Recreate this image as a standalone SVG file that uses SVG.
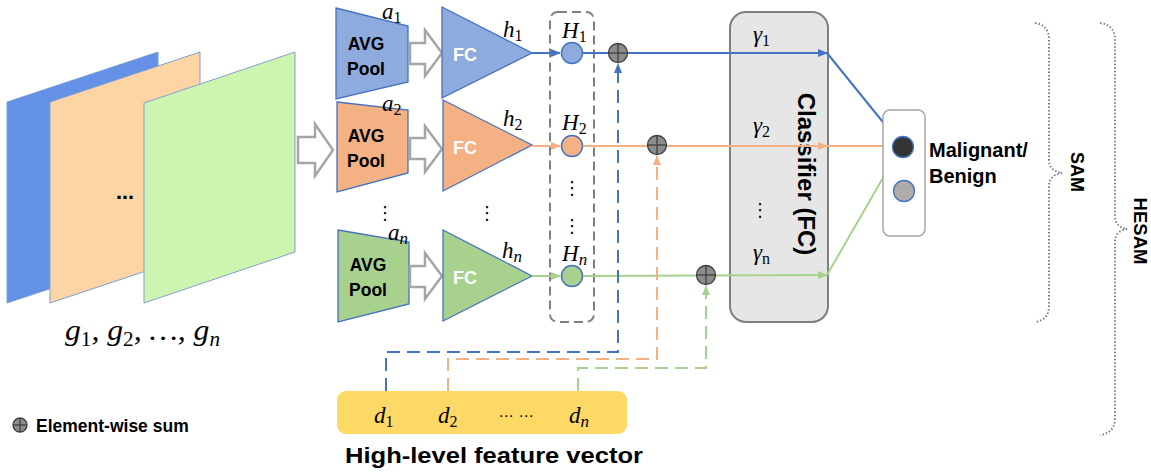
<svg xmlns="http://www.w3.org/2000/svg" width="1151" height="472" viewBox="0 0 1151 472">
<style>
.bold{font-family:"Liberation Sans",Arial,sans-serif;font-weight:bold;fill:#000}
.fc{font-family:"Liberation Sans",Arial,sans-serif;font-weight:bold;fill:#fff;font-size:18px}
.pool{font-family:"Liberation Sans",Arial,sans-serif;font-weight:bold;font-size:17.5px;text-anchor:middle}
.math{font-family:"Liberation Serif","DejaVu Serif",serif;font-style:italic;font-size:23px;fill:#000}
.up{font-style:normal;font-size:16px}
.blk{stroke:#4472C4;stroke-width:1.3}
.barrow{fill:#fff;stroke:#A6A6A6;stroke-width:2.5}
.plus circle{fill:#8C8C8C;stroke:#404040;stroke-width:1.3}
.plus line{stroke:#404040;stroke-width:1.3}
.dots{font-family:"DejaVu Sans",sans-serif;font-size:18px;text-anchor:middle;fill:#000}
.brace{fill:none;stroke:#808080;stroke-width:2;stroke-dasharray:1.5 2}
</style>
<defs>
<marker id="ab" markerUnits="userSpaceOnUse" markerWidth="10" markerHeight="8" refX="9" refY="4" orient="auto"><path d="M0,0 L10,4 L0,8 z" fill="#4472C4"/></marker>
<marker id="ao" markerUnits="userSpaceOnUse" markerWidth="10" markerHeight="8" refX="9" refY="4" orient="auto"><path d="M0,0 L10,4 L0,8 z" fill="#F4B183"/></marker>
<marker id="ag" markerUnits="userSpaceOnUse" markerWidth="10" markerHeight="8" refX="9" refY="4" orient="auto"><path d="M0,0 L10,4 L0,8 z" fill="#A9D18E"/></marker>
</defs>

<g id="input-planes">
<polygon points="7,102 158,52 158,253 7,303" fill="#6291E5" stroke="#7F9FD3" stroke-width="1"/>
<polygon points="50,102 200,52 200,253 50,303" fill="#FDD5A5" stroke="#7F9FD3" stroke-width="1"/>
<polygon points="144,103 295,52 295,252 144,303" fill="#CDF5B0" stroke="#7F9FD3" stroke-width="1"/>
<text class="dots" x="125" y="199" font-weight="bold">…</text>
<text class="math" x="65" y="340" style="font-size:30px" textLength="155" lengthAdjust="spacingAndGlyphs">g<tspan class="up" style="font-size:20px" dy="6">1</tspan><tspan dy="-6">, g</tspan><tspan class="up" style="font-size:20px" dy="6">2</tspan><tspan dy="-6">, …, g</tspan><tspan style="font-size:20px" dy="6">n</tspan></text>
</g>

<g id="arrow-in">
<polygon class="barrow" points="298,137 315,137 315,124 333,150 315,176 315,163 298,163"/>
</g>

<g id="pool-1">
<polygon class="blk" points="336,8 408,26 408,82 336,99" fill="#8FAADC"/>
<text class="pool" x="366" y="50">AVG</text><text class="pool" x="366" y="75">Pool</text>
<text class="math" x="382" y="19">a<tspan class="up" dy="4">1</tspan></text>
</g>
<g id="pool-2">
<polygon class="blk" points="337,102 408,110 408,173 337,192" fill="#F4B183"/>
<text class="pool" x="366" y="142">AVG</text><text class="pool" x="366" y="167">Pool</text>
<text class="math" x="382" y="111">a<tspan class="up" dy="4">2</tspan></text>
</g>
<g id="pool-n">
<polygon class="blk" points="338,230 409,242 409,304 338,322" fill="#A9D18E"/>
<text class="pool" x="368" y="271">AVG</text><text class="pool" x="368" y="296">Pool</text>
<text class="math" x="388" y="240">a<tspan dy="4" font-size="17">n</tspan></text>
</g>
<text class="dots" x="385" y="219">⋮</text>
<text class="dots" x="487" y="219">⋮</text>

<g id="block-arrows">
<polygon class="barrow" points="410,43 425,43 425,30 442,53 425,76 425,64 410,64"/>
<polygon class="barrow" points="410,138 425,138 425,126 442,149 425,172 425,159 410,159"/>
<polygon class="barrow" points="410,266 425,266 425,253 442,276 425,299 425,287 410,287"/>
</g>

<g id="fc-1">
<polygon class="blk" points="442,7 442,98 532,53" fill="#8FAADC"/>
<text class="fc" x="453" y="61">FC</text>
<text class="math" x="503" y="37">h<tspan class="up" dy="4">1</tspan></text>
</g>
<g id="fc-2">
<polygon class="blk" points="443,100 443,191 532,145" fill="#F4B183"/>
<text class="fc" x="453" y="154">FC</text>
<text class="math" x="503" y="126">h<tspan class="up" dy="4">2</tspan></text>
</g>
<g id="fc-n">
<polygon class="blk" points="443,230 443,321 532,276" fill="#A9D18E"/>
<text class="fc" x="453" y="284">FC</text>
<text class="math" x="502" y="258">h<tspan dy="4" font-size="17">n</tspan></text>
</g>

<g id="h-group">
<rect x="550" y="12" width="44" height="310" rx="8" fill="none" stroke="#808080" stroke-width="2" stroke-dasharray="9 5"/>
<circle cx="572" cy="53" r="10.5" fill="#8FAADC" stroke="#4472C4" stroke-width="1.5"/>
<circle cx="572" cy="146" r="10.5" fill="#F4B183" stroke="#4472C4" stroke-width="1.5"/>
<circle cx="572" cy="276" r="10.5" fill="#A9D18E" stroke="#4472C4" stroke-width="1.5"/>
<text class="math" x="562" y="38">H<tspan class="up" dy="4">1</tspan></text>
<text class="math" x="562" y="130">H<tspan class="up" dy="4">2</tspan></text>
<text class="math" x="562" y="261">H<tspan dy="4" font-size="17">n</tspan></text>
<text class="dots" x="572" y="194">⋮</text>
<text class="dots" x="572" y="232">⋮</text>
</g>

<g id="classifier">
<rect x="730" y="12" width="98" height="310" rx="16" fill="#E7E6E6" stroke="#7F7F7F" stroke-width="2"/>
<text class="math" x="753" y="42">γ<tspan class="up" dy="4">1</tspan></text>
<text class="math" x="753" y="133">γ<tspan class="up" dy="4">2</tspan></text>
<text class="math" x="753" y="260">γ<tspan class="up" dy="4">n</tspan></text>
<text class="dots" x="760" y="216">⋮</text>
<text class="bold" font-size="24" text-anchor="middle" dominant-baseline="central" transform="translate(806,174) rotate(90)">Classifier (FC)</text>
</g>

<g id="connectors" fill="none" stroke-width="2">
<line x1="532" y1="53" x2="560" y2="53" stroke="#4472C4" marker-end="url(#ab)"/>
<line x1="532" y1="146" x2="560" y2="146" stroke="#F4B183" marker-end="url(#ao)"/>
<line x1="532" y1="276" x2="560" y2="276" stroke="#A9D18E" marker-end="url(#ag)"/>
<line x1="583" y1="53" x2="827" y2="53" stroke="#4472C4" marker-end="url(#ab)"/>
<line x1="583" y1="146" x2="827" y2="146" stroke="#F4B183" marker-end="url(#ao)"/>
<line x1="583" y1="276" x2="827" y2="275" stroke="#A9D18E" marker-end="url(#ag)"/>
<line x1="827" y1="53" x2="895" y2="137" stroke="#4472C4" marker-end="url(#ab)"/>
<line x1="827" y1="146" x2="892" y2="146" stroke="#F4B183" marker-end="url(#ao)"/>
<line x1="827" y1="275" x2="895" y2="157" stroke="#A9D18E" marker-end="url(#ag)"/>
<path d="M386,391 V352 H618 V64" stroke="#4472C4" stroke-dasharray="13 7" marker-end="url(#ab)"/>
<path d="M448,391 V359 H657 V156" stroke="#F4B183" stroke-dasharray="13 7" marker-end="url(#ao)"/>
<path d="M578,391 V368 H706 V286" stroke="#A9D18E" stroke-dasharray="13 7" marker-end="url(#ag)"/>
</g>

<g id="sum-1" class="plus"><circle cx="618" cy="53" r="9.5"/><line x1="608.5" y1="53" x2="627.5" y2="53"/><line x1="618" y1="43.5" x2="618" y2="62.5"/></g>
<g id="sum-2" class="plus"><circle cx="657" cy="145" r="9.5"/><line x1="647.5" y1="145" x2="666.5" y2="145"/><line x1="657" y1="135.5" x2="657" y2="154.5"/></g>
<g id="sum-n" class="plus"><circle cx="706" cy="275" r="9.5"/><line x1="696.5" y1="275" x2="715.5" y2="275"/><line x1="706" y1="265.5" x2="706" y2="284.5"/></g>

<g id="output">
<rect x="883" y="110" width="42" height="126" rx="7" fill="#fff" stroke="#A6A6A6" stroke-width="1.5"/>
<circle cx="903" cy="147" r="10.5" fill="#333333" stroke="#4472C4" stroke-width="1.3"/>
<circle cx="904" cy="191" r="10.5" fill="#AFABAB" stroke="#4472C4" stroke-width="1.3"/>
<text class="bold" font-size="20" x="929" y="157">Malignant/</text>
<text class="bold" font-size="20" x="929" y="183">Benign</text>
</g>

<g id="sam-brace">
<path class="brace" d="M1035,23 Q1049,25 1049,40 V160 Q1049,171 1062,173 Q1049,175 1049,186 V306 Q1049,320 1035,322"/>
<text class="bold" font-size="18" text-anchor="middle" dominant-baseline="central" transform="translate(1077,172) rotate(90)">SAM</text>
</g>
<g id="hesam-brace">
<path class="brace" d="M1100,23 Q1115,25 1115,40 V216 Q1115,227 1127,229 Q1115,231 1115,242 V418 Q1115,433 1100,435"/>
<text class="bold" font-size="18.5" text-anchor="middle" dominant-baseline="central" transform="translate(1140,231) rotate(90)">HESAM</text>
</g>

<g id="feature-vector">
<rect x="337" y="391" width="290" height="43" rx="9" fill="#FFD966"/>
<text class="math" x="374" y="423">d<tspan class="up" dy="4">1</tspan></text>
<text class="math" x="438" y="423">d<tspan class="up" dy="4">2</tspan></text>
<text class="dots" x="516" y="421" style="font-size:15px">⋯  ⋯</text>
<text class="math" x="569" y="423">d<tspan dy="4" font-size="17">n</tspan></text>
<text class="bold" font-size="22" x="345" y="463" textLength="298" lengthAdjust="spacingAndGlyphs">High-level feature vector</text>
</g>

<g id="legend">
<g class="plus"><circle cx="20" cy="425" r="7"/><line x1="13" y1="425" x2="27" y2="425"/><line x1="20" y1="418" x2="20" y2="432"/></g>
<text class="bold" font-size="17.5" x="36" y="432">Element-wise sum</text>
</g>
</svg>
